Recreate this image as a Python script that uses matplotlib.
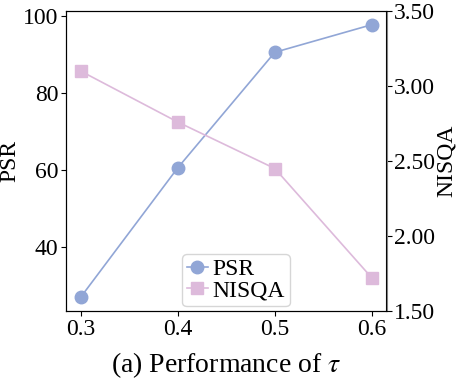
import matplotlib
matplotlib.use("Agg")
import matplotlib.pyplot as plt

plt.rcParams['font.family'] = ['Liberation Serif', 'DejaVu Serif']
plt.rcParams['mathtext.fontset'] = 'stix'

taus = [0.3, 0.4, 0.5, 0.6]
psr = [26.8, 60.5, 90.6, 97.8]
nisqa = [3.10, 2.76, 2.45, 1.72]
xtick_labels = ['0.3', '0.4', '0.5', '0.6']
right_ticks = [1.5, 2.0, 2.5, 3.0, 3.5]

c_psr = '#91A6D6'
c_nisqa = '#DDBADB'

fig = plt.figure(figsize=(4.6, 3.79), dpi=100)
ax = fig.add_axes([66/460, 1-311/379, (386.5-66)/460, (311-11)/379])
ax2 = ax.twinx()

l1, = ax.plot(taus, psr, color=c_psr, marker='o', markersize=9, linewidth=1.2, label='PSR')
l2, = ax2.plot(taus, nisqa, color=c_nisqa, marker='s', markersize=9, linewidth=1.2, label='NISQA')

ax.set_xticks(taus)
ax.set_xticklabels(xtick_labels)
ax.set_yticks([40, 60, 80, 100])
ax2.set_ylim(1.5, 3.5)
ax2.set_yticks(right_ticks)
ax2.set_yticklabels([f'{v:.2f}' for v in right_ticks])
ax2.spines['right'].set_color('gray')

fs = 17
ax.tick_params(labelsize=fs, pad=2)
ax2.tick_params(labelsize=fs, pad=2)
ax.set_ylabel('PSR', fontsize=fs, labelpad=2)
ax2.set_ylabel('NISQA', fontsize=fs, labelpad=0.5)
ax.set_xlabel(r'(a) Performance of $\tau$', fontsize=20, labelpad=8)

ax2.legend([l1, l2], ['PSR', 'NISQA'], loc='lower center', bbox_to_anchor=(0.53, 0.0),
           fontsize=fs, borderaxespad=0.2, handlelength=0.9, handletextpad=0.2,
           borderpad=0.2, labelspacing=0.0)

fig.savefig('out.png', dpi=100)
